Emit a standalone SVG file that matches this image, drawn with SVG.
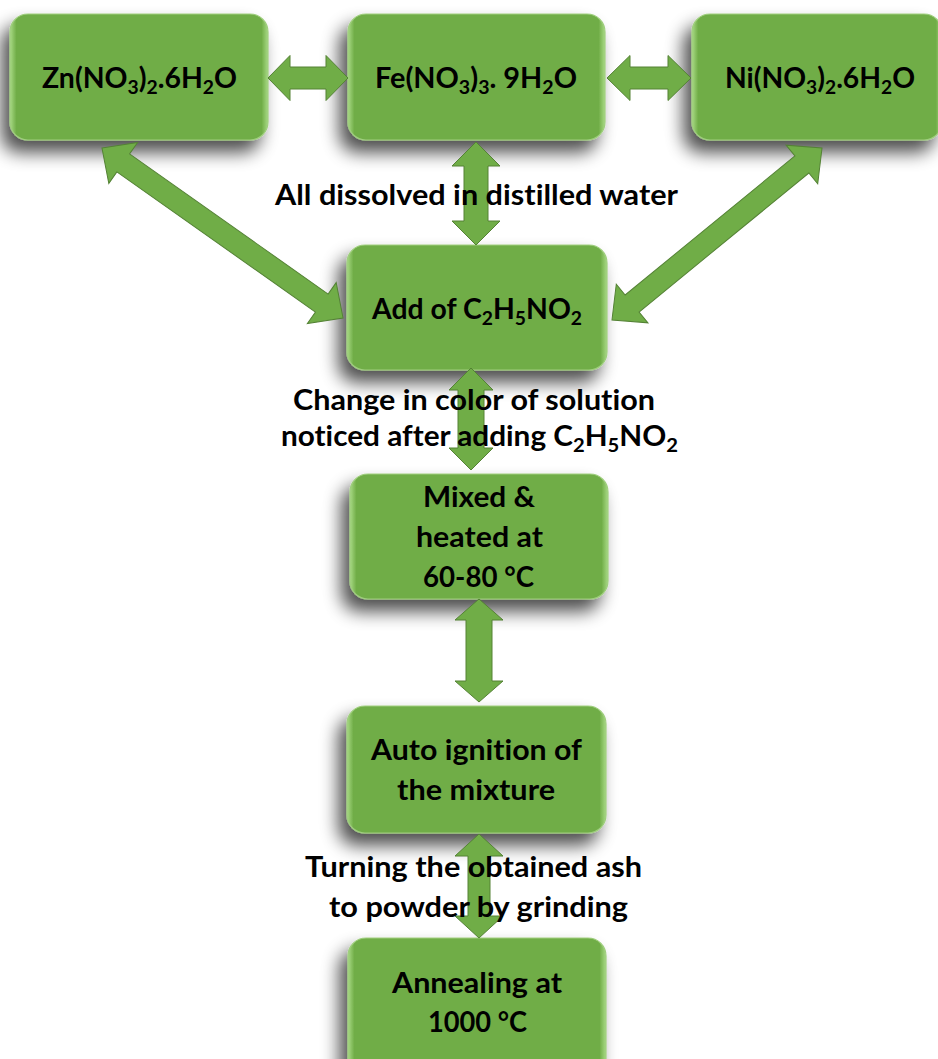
<svg xmlns="http://www.w3.org/2000/svg" width="938" height="1059" viewBox="0 0 938 1059">
  <defs>
    <linearGradient id="boxGrad" x1="0" y1="0" x2="1" y2="0">
      <stop offset="0" stop-color="#A9DA86"/>
      <stop offset="0.025" stop-color="#70AD47"/>
      <stop offset="0.975" stop-color="#70AD47"/>
      <stop offset="1" stop-color="#A9DA86"/>
    </linearGradient>
    <filter id="shadow" x="-25%" y="-35%" width="150%" height="180%">
      <feGaussianBlur in="SourceAlpha" stdDeviation="9"/>
      <feOffset dx="-8" dy="12" result="b"/>
      <feComponentTransfer><feFuncA type="linear" slope="0.7"/></feComponentTransfer>
      <feMerge><feMergeNode/><feMergeNode in="SourceGraphic"/></feMerge>
    </filter>
  </defs>
  <style>
    .box { fill: url(#boxGrad); stroke: #9FCE7E; stroke-width: 1.2; filter: url(#shadow); }
    .arr { fill: #70AD47; stroke: #548235; stroke-width: 1; stroke-linejoin: miter; }
    text { font-family: "Lato", "Open Sans", "Liberation Sans", sans-serif; font-weight: 700; font-size: 28px; fill: #000; text-anchor: middle; font-variant-ligatures: none; font-feature-settings: "liga" 0, "clig" 0, "dlig" 0; }
    .sub { font-size: 19px; }
  </style>

  <g id="nodes">
    <g id="n-zn">
      <rect class="box" x="10" y="14" width="258" height="126" rx="18"/>
      <text x="139.5" y="88" textLength="195" lengthAdjust="spacingAndGlyphs">Zn(NO<tspan class="sub" dy="6">3</tspan><tspan dy="-6">)</tspan><tspan class="sub" dy="6">2</tspan><tspan dy="-6">.6H</tspan><tspan class="sub" dy="6">2</tspan><tspan dy="-6">O</tspan></text>
    </g>
    <g id="n-fe">
      <rect class="box" x="348" y="14" width="257" height="126" rx="18"/>
      <text x="476" y="88" textLength="202" lengthAdjust="spacingAndGlyphs">Fe(NO<tspan class="sub" dy="6">3</tspan><tspan dy="-6">)</tspan><tspan class="sub" dy="6">3</tspan><tspan dy="-6">. 9H</tspan><tspan class="sub" dy="6">2</tspan><tspan dy="-6">O</tspan></text>
    </g>
    <g id="n-ni">
      <rect class="box" x="692" y="14" width="250" height="126" rx="18"/>
      <text x="820" y="88" textLength="190" lengthAdjust="spacingAndGlyphs">Ni(NO<tspan class="sub" dy="6">3</tspan><tspan dy="-6">)</tspan><tspan class="sub" dy="6">2</tspan><tspan dy="-6">.6H</tspan><tspan class="sub" dy="6">2</tspan><tspan dy="-6">O</tspan></text>
    </g>
    <g id="n-add">
      <rect class="box" x="347" y="245" width="260" height="125" rx="18"/>
      <text x="477" y="319" textLength="210" lengthAdjust="spacingAndGlyphs">Add of C<tspan class="sub" dy="6">2</tspan><tspan dy="-6">H</tspan><tspan class="sub" dy="6">5</tspan><tspan dy="-6">NO</tspan><tspan class="sub" dy="6">2</tspan></text>
    </g>
    <g id="n-mixed">
      <rect class="box" x="350" y="474" width="258" height="125" rx="18"/>
      <text x="479" y="507" textLength="112" lengthAdjust="spacingAndGlyphs">Mixed &amp;</text>
      <text x="479.5" y="547" textLength="127" lengthAdjust="spacingAndGlyphs">heated at</text>
      <text x="478.5" y="587" textLength="111" lengthAdjust="spacingAndGlyphs">60-80 °C</text>
    </g>
    <g id="n-auto">
      <rect class="box" x="347" y="706" width="259" height="127" rx="18"/>
      <text x="476.5" y="760" textLength="211" lengthAdjust="spacingAndGlyphs">Auto ignit&#x200C;ion of</text>
      <text x="476" y="800" textLength="158" lengthAdjust="spacingAndGlyphs">the mixture</text>
    </g>
    <g id="n-anneal">
      <rect class="box" x="348" y="938" width="258" height="140" rx="18"/>
      <text x="477" y="993" textLength="170" lengthAdjust="spacingAndGlyphs">Annealing at</text>
      <text x="477.5" y="1032" textLength="99" lengthAdjust="spacingAndGlyphs">1000 °C</text>
    </g>
  </g>

  <g id="connectors">
    <polygon class="arr" points="268,78 290,55.5 290,67 326,67 326,55.5 348,78 326,100.5 326,89 290,89 290,100.5"/>
    <polygon class="arr" points="607,78 630,55.5 630,67 668,67 668,55.5 691,78 668,100.5 668,89 630,89 630,100.5"/>
    <polygon class="arr" points="476,142 500,166 488,166 488,221 500,221 476,245 452,221 464,221 464,166 452,166"/>
    <polygon class="arr" transform="translate(222.5,233) rotate(35.2)" points="-147.5,0 -121.5,-25 -121.5,-11 121.5,-11 121.5,-25 147.5,0 121.5,25 121.5,11 -121.5,11 -121.5,25"/>
    <polygon class="arr" transform="translate(717,234) rotate(-39.3)" points="-135.7,0 -109.7,-25 -109.7,-11 109.7,-11 109.7,-25 135.7,0 109.7,25 109.7,11 -109.7,11 -109.7,25"/>
    <polygon class="arr" points="471,368 493,390 484,390 484,448 493,448 471,470 449,448 458,448 458,390 449,390"/>
    <polygon class="arr" points="479,599 503,620 492,620 492,681 503,681 479,702 455,681 466,681 466,620 455,620"/>
    <polygon class="arr" points="479,834 503,856 490,856 490,916 503,916 479,938 455,916 468,916 468,856 455,856"/>
  </g>

  <g id="labels">
    <text x="476.5" y="205" textLength="403" lengthAdjust="spacingAndGlyphs">All dissolved in dist&#x200C;illed water</text>
    <text x="474" y="410" textLength="362" lengthAdjust="spacingAndGlyphs">Change in color of solut&#x200C;ion</text>
    <text x="479.5" y="446" textLength="397" lengthAdjust="spacingAndGlyphs">noticed after adding C<tspan class="sub" dy="6">2</tspan><tspan dy="-6">H</tspan><tspan class="sub" dy="6">5</tspan><tspan dy="-6">NO</tspan><tspan class="sub" dy="6">2</tspan></text>
    <text x="473.5" y="877" textLength="337" lengthAdjust="spacingAndGlyphs">Turning the obtained ash</text>
    <text x="478.5" y="917" textLength="299" lengthAdjust="spacingAndGlyphs">to powder by grinding</text>
  </g>
</svg>
